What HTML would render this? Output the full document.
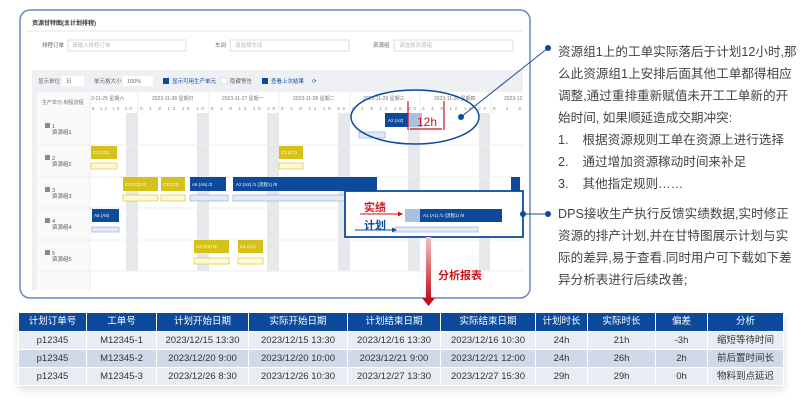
<!DOCTYPE html>
<html><head><meta charset="utf-8">
<style>
body{margin:0;width:800px;height:402px;background:#fff;overflow:hidden;position:relative;font-family:"Liberation Sans","Noto Sans CJK SC",sans-serif;}
.txt{position:absolute;left:558px;width:240px;font-size:12.6px;line-height:22px;color:#444;}
table{position:absolute;left:18px;top:312px;width:765px;border-collapse:collapse;font-size:9.5px;color:#333;box-shadow:0 4px 8px rgba(0,0,0,.12);table-layout:fixed;white-space:nowrap;}
th{background:#0d4a9c;color:#fff;font-weight:normal;height:18px;line-height:18px;border:1px solid #fff;padding:0}
td{height:17px;line-height:17px;border:1px solid #fff;text-align:center;padding:0;background:#e8edf4;overflow:hidden;vertical-align:middle}
tr.alt td{background:#cfd9e7}
</style></head><body>
<svg width="800" height="402" style="position:absolute;left:0;top:0" font-family="Liberation Sans, Noto Sans CJK SC, sans-serif">
<rect x="20" y="10" width="510" height="288" rx="10" fill="#fff" stroke="#6b86c6" stroke-width="1.5"/>
<text x="32" y="25" font-size="6" font-weight="bold" fill="#333">资源甘特图(主计划排程)</text>
<line x1="26" y1="31" x2="522" y2="31" stroke="#e4e4e4"/>
<g font-size="5.5" fill="#666">
<text x="42" y="47">排程订单</text><rect x="68" y="40" width="118" height="11" fill="#fff" stroke="#ddd"/><text x="72" y="47" fill="#bbb">请输入排程订单</text>
<text x="215" y="47">车间</text><rect x="230" y="40" width="119" height="11" fill="#fff" stroke="#ddd"/><text x="235" y="47" fill="#bbb">请选择车间</text>
<text x="373" y="47">资源组</text><rect x="394" y="40" width="119" height="11" fill="#fff" stroke="#ddd"/><text x="399" y="47" fill="#bbb">请选择资源组</text>
</g>
<rect x="32" y="70" width="491" height="220" fill="#eef0f4"/>
<g font-size="5.5" fill="#666">
<text x="38" y="83">显示单位</text><rect x="62" y="76" width="22" height="10" fill="#fff"/><text x="66" y="83">日</text>
<text x="94" y="83">单元格大小</text><rect x="123" y="76" width="30" height="10" fill="#fff"/><text x="127" y="83">100%</text>
<rect x="163" y="78" width="6" height="6" fill="#0d4a9c"/><text x="172" y="83" fill="#0d4a9c">显示可用生产单元</text>
<rect x="221" y="78" width="6" height="6" fill="#fff" stroke="#ccc" stroke-width=".5"/><text x="230" y="83">隐藏警告</text>
<rect x="262" y="78" width="6" height="6" fill="#0d4a9c"/><text x="271" y="83" fill="#0d4a9c">查看上次结果</text>
<text x="312" y="83" fill="#0d4a9c">⟳</text>
</g>
<rect x="37" y="92" width="486" height="198" fill="#fff"/>
<rect x="37" y="92" width="53" height="198" fill="#fafafa"/>
<g fill="#e6e8ec">
<rect x="126" y="113" width="12" height="158"/><rect x="197" y="113" width="12" height="158"/><rect x="267" y="113" width="12" height="158"/><rect x="338" y="113" width="12" height="158"/><rect x="408" y="113" width="12" height="158"/><rect x="479" y="113" width="11" height="158"/>
</g>
<g stroke="#eee"><line x1="37" y1="145" x2="523" y2="145"/><line x1="37" y1="177" x2="523" y2="177"/><line x1="37" y1="208" x2="523" y2="208"/><line x1="37" y1="240" x2="523" y2="240"/><line x1="37" y1="271" x2="523" y2="271"/><line x1="90" y1="92" x2="90" y2="290"/>
<line x1="138" y1="92" x2="138" y2="113"/><line x1="209" y1="92" x2="209" y2="113"/><line x1="279" y1="92" x2="279" y2="113"/><line x1="350" y1="92" x2="350" y2="113"/><line x1="420" y1="92" x2="420" y2="113"/><line x1="491" y1="92" x2="491" y2="113"/></g>
<g font-size="5" fill="#777">
<text x="42" y="104">生产单元-制程流程</text>
<text x="91" y="100">3-11-25 星期六</text><text x="152" y="100">2023-11-26 星期日</text><text x="222" y="100">2023-11-27 星期一</text><text x="293" y="100">2023-11-28 星期二</text><text x="363" y="100">2023-11-29 星期三</text><text x="434" y="100">2023-11-30 星期四</text><text x="504" y="100">2023-12</text>
</g>
<g font-size="4.5" fill="#888">
<text x="92" y="110" textLength="40" lengthAdjust="spacing">8  12  16  20</text>
<text x="140" y="110" textLength="64" lengthAdjust="spacing">0  4  8  12  16  20</text>
<text x="211" y="110" textLength="64" lengthAdjust="spacing">0  4  8  12  16  20</text>
<text x="281" y="110" textLength="64" lengthAdjust="spacing">0  4  8  12  16  20</text>
<text x="352" y="110" textLength="64" lengthAdjust="spacing">0  4  8  12  16  20</text>
<text x="422" y="110" textLength="64" lengthAdjust="spacing">0  4  8  12  16  20</text>
<text x="493" y="110" textLength="28" lengthAdjust="spacing">0  4  8</text>
</g>
<g font-size="5.5" fill="#555">
<rect x="45" y="123" width="5" height="5" fill="#888"/><text x="52" y="128">1</text><text x="52" y="134">资源组1</text>
<rect x="45" y="155" width="5" height="5" fill="#888"/><text x="52" y="160">2</text><text x="52" y="166">资源组2</text>
<rect x="45" y="187" width="5" height="5" fill="#888"/><text x="52" y="192">3</text><text x="52" y="198">资源组3</text>
<rect x="45" y="218" width="5" height="5" fill="#888"/><text x="52" y="223">4</text><text x="52" y="229">资源组4</text>
<rect x="45" y="250" width="5" height="5" fill="#888"/><text x="52" y="255">5</text><text x="52" y="261">资源组5</text>
</g>
<g font-size="4.5" fill="#fff">
<rect x="385" y="113" width="23" height="14" fill="#0d4a9c"/><rect x="408" y="113" width="14" height="14" fill="#aac0e0"/><text x="388" y="122">A2 (A2)</text>
<rect x="359" y="132" width="26" height="6" fill="#e2eaf6" stroke="#8aa6d6" stroke-width=".6"/>
<rect x="91" y="146" width="26" height="13" fill="#d4c21a"/><text x="93" y="154">C2 (C2)</text>
<rect x="91" y="163" width="26" height="6" fill="#fff8d8" stroke="#d4c21a" stroke-width=".6"/>
<rect x="279" y="146" width="24" height="13" fill="#d4c21a"/><text x="281" y="154">C1 (C1)</text>
<rect x="279" y="163" width="24" height="6" fill="#fff8d8" stroke="#d4c21a" stroke-width=".6"/>
<rect x="123" y="177" width="35" height="14" fill="#d4c21a"/><text x="125" y="186">C2 (C2) /2</text>
<rect x="161" y="177" width="24" height="14" fill="#d4c21a"/><text x="163" y="186">C3 (C3)</text>
<rect x="190" y="177" width="36" height="14" fill="#0d4a9c"/><text x="192" y="186">A5 (A5) /2</text>
<rect x="233" y="177" width="144" height="14" fill="#0d4a9c"/><text x="236" y="186">A2 (A2) /1 (流程1) /8</text>
<rect x="511" y="177" width="9" height="14" fill="#0d4a9c"/>
<rect x="123" y="195" width="35" height="6" fill="#fff8d8" stroke="#d4c21a" stroke-width=".6"/>
<rect x="161" y="195" width="24" height="6" fill="#fff8d8" stroke="#d4c21a" stroke-width=".6"/>
<rect x="190" y="195" width="38" height="6" fill="#e2eaf6" stroke="#8aa6d6" stroke-width=".6"/>
<rect x="233" y="195" width="120" height="6" fill="#e2eaf6" stroke="#8aa6d6" stroke-width=".6"/>
<rect x="92" y="209" width="27" height="13" fill="#0d4a9c"/><text x="94" y="217">A5 (A5)</text>
<rect x="92" y="227" width="27" height="5" fill="#e2eaf6" stroke="#8aa6d6" stroke-width=".6"/>
<rect x="194" y="240" width="35" height="13" fill="#d4c21a"/><text x="196" y="248">C3 (C3) /2</text>
<rect x="238" y="240" width="25" height="13" fill="#d4c21a"/><text x="240" y="248">C1 (C1)</text>
<rect x="194" y="258" width="35" height="6" fill="#fff8d8" stroke="#d4c21a" stroke-width=".6"/>
<rect x="238" y="258" width="25" height="6" fill="#fff8d8" stroke="#d4c21a" stroke-width=".6"/>
</g>
<rect x="345" y="191" width="178" height="46" fill="#fff" stroke="#0d4a9c" stroke-width="1.8"/>
<rect x="405" y="209" width="15" height="13" fill="#aac0e0"/><rect x="420" y="209" width="82" height="13" fill="#0d4a9c"/>
<text x="423" y="217" font-size="4.5" fill="#fff">A1 (A1) /1 (流程1) /8</text>
<rect x="395" y="227" width="83" height="5" fill="#e2eaf6" stroke="#8aa6d6" stroke-width=".6"/>
<text x="364" y="211" font-size="11" font-weight="bold" fill="#d0121b">实绩</text>
<line x1="360" y1="214" x2="400" y2="214" stroke="#d0121b" stroke-width="1"/><polygon points="403,214 398,211.5 398,216.5" fill="#d0121b"/>
<text x="364" y="229" font-size="11" font-weight="bold" fill="#0d4a9c">计划</text>
<line x1="355" y1="230" x2="393" y2="230" stroke="#0d4a9c" stroke-width="1"/><polygon points="397,230 392,227.5 392,232.5" fill="#0d4a9c"/>
<ellipse cx="415" cy="117" rx="64" ry="27" fill="none" stroke="#0d4a9c" stroke-width="1.5"/>
<g stroke="#d0121b" stroke-width="1.2"><line x1="408" y1="101" x2="408" y2="130"/><line x1="444" y1="101" x2="444" y2="130"/><line x1="410" y1="129" x2="442" y2="129"/></g>
<text x="417" y="126" font-size="12" fill="#d0121b">12h</text>
<line x1="461" y1="117" x2="548" y2="48" stroke="#1f4d9a" stroke-width="1"/>
<circle cx="461" cy="117" r="3" fill="#0d4a9c"/><circle cx="548" cy="48" r="3" fill="#0d4a9c"/>
<line x1="523" y1="214" x2="548" y2="214" stroke="#1f4d9a" stroke-width="1"/>
<circle cx="523" cy="214" r="3" fill="#0d4a9c"/><circle cx="548" cy="214" r="3" fill="#0d4a9c"/>
<defs><linearGradient id="rg" x1="0" y1="0" x2="0" y2="1"><stop offset="0" stop-color="#f3c4c6"/><stop offset="1" stop-color="#c0101a"/></linearGradient></defs>
<rect x="426" y="237" width="5" height="62" fill="url(#rg)"/>
<polygon points="422,298 435,298 428.5,306" fill="#c0101a"/>
<text x="438" y="279" font-size="11" font-weight="bold" fill="#d0121b">分析报表</text>
</svg>
<div class="txt" style="top:41px">资源组1上的工单实际落后于计划12小时,那么此资源组1上安排后面其他工单都得相应调整,通过重排重新赋值未开工工单新的开始时间, 如果顺延造成交期冲突:<br>1.&nbsp;&nbsp;&nbsp;&nbsp;根据资源规则工单在资源上进行选择<br>2.&nbsp;&nbsp;&nbsp;&nbsp;通过增加资源稼动时间来补足<br>3.&nbsp;&nbsp;&nbsp;&nbsp;其他指定规则……</div>
<div class="txt" style="top:203px">DPS接收生产执行反馈实绩数据,实时修正资源的排产计划,并在甘特图展示计划与实际的差异,易于查看.同时用户可下载如下差异分析表进行后续改善;</div>
<table>
<colgroup><col style="width:68px"><col style="width:70px"><col style="width:92px"><col style="width:99px"><col style="width:93px"><col style="width:95px"><col style="width:52px"><col style="width:68px"><col style="width:52px"><col style="width:76px"></colgroup>
<tr><th>计划订单号</th><th>工单号</th><th>计划开始日期</th><th>实际开始日期</th><th>计划结束日期</th><th>实际结束日期</th><th>计划时长</th><th>实际时长</th><th>偏差</th><th>分析</th></tr>
<tr><td>p12345</td><td>M12345-1</td><td>2023/12/15 13:30</td><td>2023/12/15 13:30</td><td>2023/12/16 13:30</td><td>2023/12/16 10:30</td><td>24h</td><td>21h</td><td>-3h</td><td>缩短等待时间</td></tr>
<tr class="alt"><td>p12345</td><td>M12345-2</td><td>2023/12/20 9:00</td><td>2023/12/20 10:00</td><td>2023/12/21 9:00</td><td>2023/12/21 12:00</td><td>24h</td><td>26h</td><td>2h</td><td>前后置时间长</td></tr>
<tr><td>p12345</td><td>M12345-3</td><td>2023/12/26 8:30</td><td>2023/12/26 10:30</td><td>2023/12/27 13:30</td><td>2023/12/27 15:30</td><td>29h</td><td>29h</td><td>0h</td><td>物料到点延迟</td></tr>
</table>
</body></html>
